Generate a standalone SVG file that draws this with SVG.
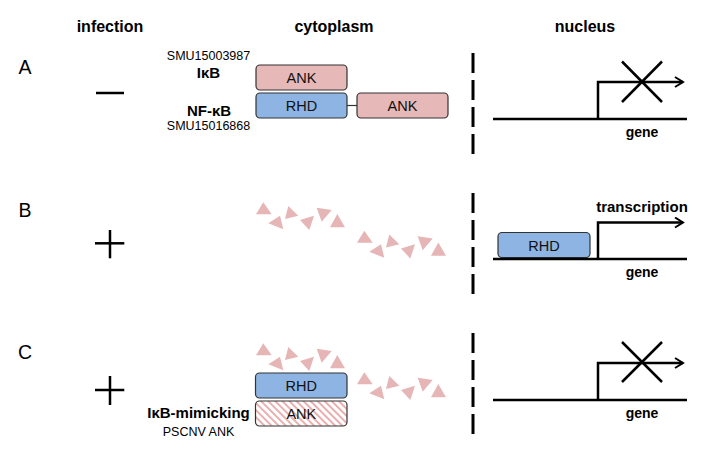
<svg xmlns="http://www.w3.org/2000/svg" xmlns:xlink="http://www.w3.org/1999/xlink" width="703" height="458" viewBox="0 0 703 458">
<style>
  .hdr { font-family: "Liberation Sans", Arial, sans-serif; font-weight: bold; font-size: 16px; text-anchor: middle; fill: #000; }
  .row { font-family: "Liberation Sans", Arial, sans-serif; font-size: 19.5px; text-anchor: middle; fill: #000; }
  .id { font-family: "Liberation Sans", Arial, sans-serif; font-size: 12.5px; text-anchor: middle; fill: #000; }
  .lbl { font-family: "Liberation Sans", Arial, sans-serif; font-weight: bold; font-size: 15px; text-anchor: middle; fill: #000; }
  .box-t { font-family: "Liberation Sans", Arial, sans-serif; font-size: 14.5px; text-anchor: middle; fill: #111; }
  .ank { fill: #e6b8b7; stroke: #333; stroke-width: 1.2; }
  .rhd { fill: #8db4e2; stroke: #333; stroke-width: 1.2; }
  .hatch { fill: url(#stripes); stroke: #333; stroke-width: 1.2; }
  .tri { fill: #e6b5b5; }
  .ln { stroke: #000; stroke-width: 2.5; fill: none; }
  .dash { stroke: #000; stroke-width: 3; stroke-dasharray: 20 7; fill: none; }
</style>
<defs>
  <pattern id="stripes" patternUnits="userSpaceOnUse" width="5" height="5" patternTransform="rotate(-45)">
    <rect width="5" height="5" fill="#fff"/>
    <rect width="2" height="5" fill="#eab0b0"/>
  </pattern>
  <marker id="chev" markerUnits="userSpaceOnUse" markerWidth="12" markerHeight="14" refX="9" refY="6" orient="auto">
    <path d="M1,1 L9,6 L1,11" fill="none" stroke="#000" stroke-width="2"/>
  </marker>
  <g id="tris">
    <polygon class="tri" points="256,214.3 263.3,202.3 271.7,214.3"/>
    <polygon class="tri" points="268.3,223.3 280,215.7 283.3,229.3"/>
    <polygon class="tri" points="285,219 288.3,206 298.3,215.7"/>
    <polygon class="tri" points="300,220 314,215.7 309.3,230"/>
    <polygon class="tri" points="316.7,207.7 331.7,210 321.7,221.7"/>
    <polygon class="tri" points="330,227.3 337.3,214 345,227.3"/>
  </g>
</defs>
<rect width="703" height="458" fill="#fff"/>

<!-- headers -->
<g id="headers">
  <text class="hdr" x="110" y="32">infection</text>
  <text class="hdr" x="334" y="32">cytoplasm</text>
  <text class="hdr" x="585" y="32">nucleus</text>
</g>

<!-- row labels -->
<g id="row-labels">
  <text class="row" x="25" y="74">A</text>
  <text class="row" x="25" y="217">B</text>
  <text class="row" x="25" y="359">C</text>
</g>

<!-- infection signs -->
<g id="infection-signs">
  <line class="ln" x1="96" y1="93" x2="124" y2="93"/>
  <line class="ln" x1="95" y1="243.3" x2="124.3" y2="243.3"/>
  <line class="ln" x1="110" y1="230" x2="110" y2="258.3"/>
  <line class="ln" x1="95" y1="390" x2="124.3" y2="390"/>
  <line class="ln" x1="110" y1="376" x2="110" y2="405"/>
</g>

<!-- nuclear membrane -->
<g id="membrane">
  <line class="dash" x1="473" y1="53" x2="473" y2="154"/>
  <line class="dash" x1="473" y1="193" x2="473" y2="294"/>
  <line class="dash" x1="473" y1="333" x2="473" y2="434"/>
</g>

<!-- Row A nodes -->
<g id="labels-A">
  <text class="id" x="208.5" y="60">SMU15003987</text>
  <text class="lbl" x="208.5" y="78">IκB</text>
  <text class="lbl" x="209" y="116">NF-κB</text>
  <text class="id" x="208.5" y="130">SMU15016868</text>
</g>
<g id="ikb-ank-A">
  <rect class="ank" x="256" y="65" width="91" height="25" rx="4"/>
  <text class="box-t" x="301.5" y="83">ANK</text>
</g>
<g id="nfkb-rhd-A">
  <rect class="rhd" x="256" y="93" width="91" height="25" rx="4"/>
  <text class="box-t" x="301.5" y="111">RHD</text>
</g>
<g id="nfkb-ank-A">
  <rect class="ank" x="357" y="93" width="91" height="25" rx="4"/>
  <text class="box-t" x="402.5" y="111">ANK</text>
</g>

<!-- Row B nodes -->
<g id="fragments-B">
  <use xlink:href="#tris"/>
  <use xlink:href="#tris" transform="translate(101,28.5)"/>
</g>
<g id="rhd-B">
  <rect class="rhd" x="498" y="232.5" width="92" height="25" rx="4"/>
  <text class="box-t" x="544" y="250.5">RHD</text>
</g>

<!-- Row C nodes -->
<g id="fragments-C">
  <use xlink:href="#tris" transform="translate(0,141)"/>
  <use xlink:href="#tris" transform="translate(101,170)"/>
</g>
<g id="rhd-C">
  <rect class="rhd" x="255.5" y="373" width="91.5" height="25" rx="4"/>
  <text class="box-t" x="301.3" y="391">RHD</text>
</g>
<g id="ank-C">
  <rect class="hatch" x="255.5" y="401" width="91.5" height="25" rx="4"/>
  <text class="box-t" x="301.3" y="419">ANK</text>
</g>
<g id="labels-C">
  <text class="lbl" x="198.5" y="418">IκB-mimicking</text>
  <text class="id" x="198.5" y="436">PSCNV ANK</text>
</g>

<!-- genes -->
<g id="gene-A">
  <line class="ln" x1="493" y1="119" x2="687" y2="119"/>
  <text class="lbl" x="642" y="137" style="font-size:14px">gene</text>
</g>
<g id="gene-B">
  <line class="ln" x1="493" y1="259" x2="687" y2="259"/>
  <text class="lbl" x="642" y="277" style="font-size:14px">gene</text>
  <text class="lbl" x="642" y="212">transcription</text>
</g>
<g id="gene-C">
  <line class="ln" x1="493" y1="400" x2="687" y2="400"/>
  <text class="lbl" x="642" y="418" style="font-size:14px">gene</text>
</g>

<!-- connectors -->
<g id="connectors">
  <line x1="347" y1="105.5" x2="357" y2="105.5" stroke="#333" stroke-width="1.2"/>
  <polyline class="ln" points="598,119 598,82 683,82" marker-end="url(#chev)"/>
  <polyline class="ln" points="598,259 598,222.5 683,222.5" marker-end="url(#chev)"/>
  <polyline class="ln" points="598,400 598,363 683,363" marker-end="url(#chev)"/>
  <line class="ln" x1="622" y1="61.5" x2="662" y2="102"/>
  <line class="ln" x1="662" y1="61.5" x2="622" y2="102"/>
  <line class="ln" x1="622" y1="342" x2="662" y2="382"/>
  <line class="ln" x1="662" y1="342" x2="622" y2="382"/>
</g>
</svg>
